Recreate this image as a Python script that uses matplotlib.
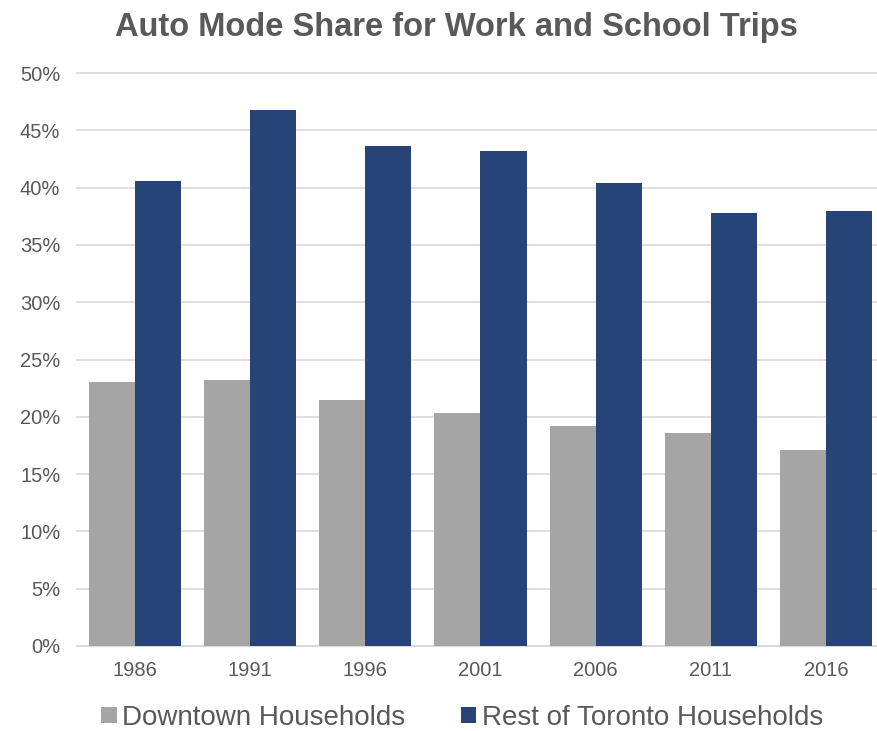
import matplotlib
matplotlib.use("Agg")
import matplotlib.pyplot as plt
import numpy as np
from matplotlib.ticker import FuncFormatter

years = ["1986", "1991", "1996", "2001", "2006", "2011", "2016"]
downtown = [23.05, 23.25, 21.5, 20.3, 19.2, 18.6, 17.1]
rest_of_toronto = [40.6, 46.8, 43.6, 43.2, 40.4, 37.8, 38.0]
series_names = ["Downtown Households", "Rest of Toronto Households"]
yticks = [0, 5, 10, 15, 20, 25, 30, 35, 40, 45, 50]

plt.rcParams['font.family'] = ['Liberation Sans', 'DejaVu Sans']

fig = plt.figure(figsize=(8.77, 7.31), dpi=100)
ax = fig.add_axes([0.0878, 0.1163, 0.920, 0.7838])

x = np.arange(len(years))
w = 0.4
gray = "#A5A5A5"
blue = "#264478"
b1 = ax.bar(x - w / 2, downtown, width=w, color=gray, label=series_names[0], zorder=3)
b2 = ax.bar(x + w / 2, rest_of_toronto, width=w, color=blue, label=series_names[1], zorder=3)

ax.set_xlim(-0.5, len(years) - 0.5)
ax.set_ylim(0, 50)
ax.set_yticks(yticks)
ax.yaxis.set_major_formatter(FuncFormatter(lambda v, p: f"{int(v)}%"))
ax.set_xticks(x)
ax.set_xticklabels(years)
ax.grid(axis="y", color="#D9D9D9", linewidth=1.2, zorder=0)
for s in ["top", "right", "left"]:
    ax.spines[s].set_visible(False)
ax.spines["bottom"].set_color("#D9D9D9")
ax.spines["bottom"].set_linewidth(1.2)
for gl in ax.get_ygridlines():
    gl.set_clip_on(False)
ax.tick_params(axis="both", length=0, labelsize=14.5, labelcolor="#595959")
ax.tick_params(axis="y", pad=12)
ax.tick_params(axis="x", pad=11)

fig.text(0.52, 0.963, "Auto Mode Share for Work and School Trips", ha="center", va="center",
         fontsize=23.5, fontweight="bold", color="#595959")

leg = fig.legend(handles=[b1, b2], loc="center", bbox_to_anchor=(0.527, 0.018), ncol=2,
                 frameon=False, fontsize=20, handlelength=0.55, handleheight=0.55,
                 handletextpad=0.2, columnspacing=2.0, labelcolor="#595959",
                 borderpad=0.0)

fig.savefig("out.png", dpi=100)
